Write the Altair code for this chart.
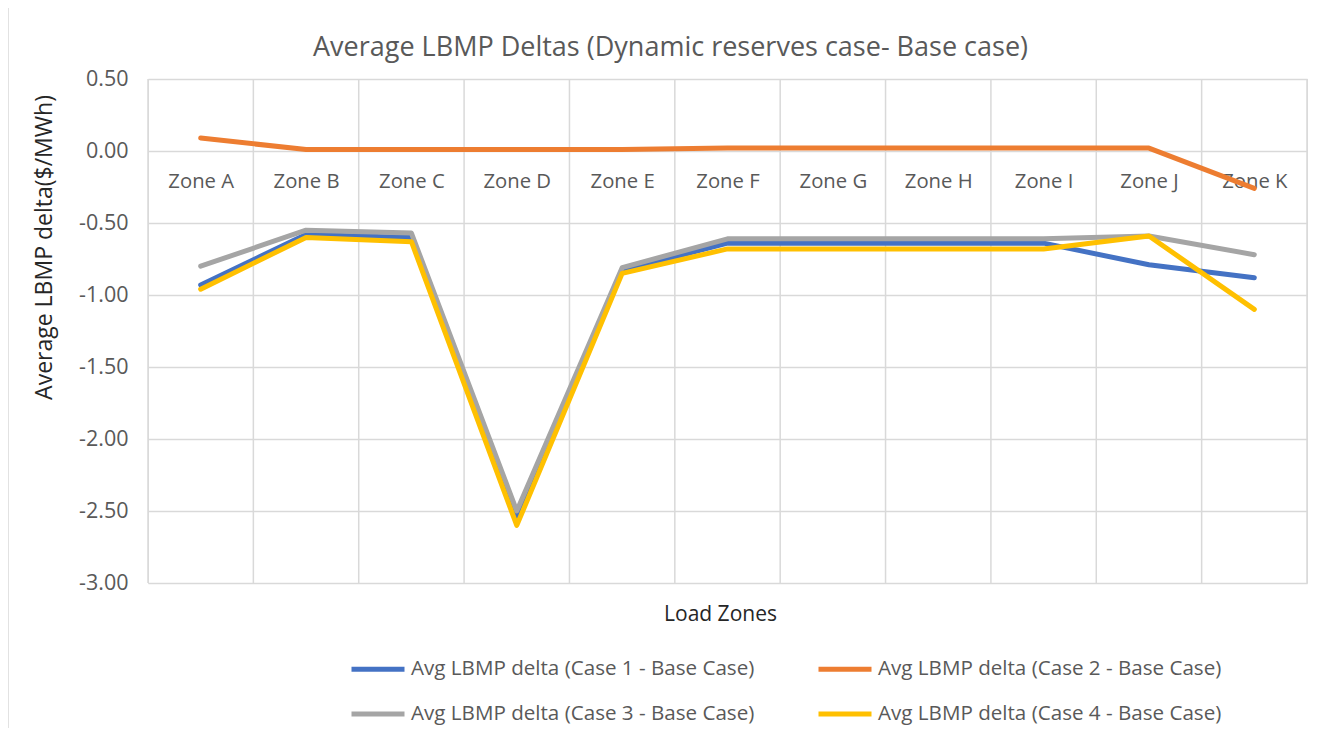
import altair as alt
import pandas as pd

zones = ["Zone A", "Zone B", "Zone C", "Zone D", "Zone E", "Zone F",
         "Zone G", "Zone H", "Zone I", "Zone J", "Zone K"]
series_names = [
    "Avg LBMP delta (Case 1 - Base Case)",
    "Avg LBMP delta (Case 2 - Base Case)",
    "Avg LBMP delta (Case 3 - Base Case)",
    "Avg LBMP delta (Case 4 - Base Case)",
]
case1 = [-0.93, -0.58, -0.60, -2.55, -0.83, -0.64, -0.64, -0.64, -0.64, -0.79, -0.88]
case2 = [0.09, 0.01, 0.01, 0.01, 0.01, 0.02, 0.02, 0.02, 0.02, 0.02, -0.26]
case3 = [-0.80, -0.55, -0.57, -2.50, -0.81, -0.61, -0.61, -0.61, -0.61, -0.59, -0.72]
case4 = [-0.96, -0.60, -0.63, -2.60, -0.85, -0.68, -0.68, -0.68, -0.68, -0.59, -1.10]
colors = ["#4472C4", "#ED7D31", "#A5A5A5", "#FFC000"]
y_ticks = [0.5, 0.0, -0.5, -1.0, -1.5, -2.0, -2.5, -3.0]

FONT = "Open Sans"
TXT = "#595959"
GRID = "#D9D9D9"

rows = []
for name, vals in zip(series_names, [case1, case2, case3, case4]):
    for i, (z, v) in enumerate(zip(zones, vals)):
        rows.append({"zone": z, "idx": i, "series": name, "value": v})
df = pd.DataFrame(rows)
bounds = pd.DataFrame({"b": [i - 0.5 for i in range(len(zones) + 1)]})

W, H = 1159, 504
ymin, ymax = -3.0, 0.5
zero_from_bottom = (0 - ymin) / (ymax - ymin) * H

xscale = alt.Scale(domain=[-0.5, len(zones) - 0.5], nice=False, zero=False)
yscale = alt.Scale(domain=[ymin, ymax], nice=False, zero=False)
label_expr = "[" + ",".join("'%s'" % z for z in zones) + "][round(datum.value)]"

border = alt.Chart(pd.DataFrame({"k": [0]})).mark_rect(
    fill="transparent", stroke=GRID, strokeWidth=1.5
).encode(x=alt.value(-140), x2=alt.value(W + 100), y=alt.value(-72), y2=alt.value(H + 300))

vgrid = alt.Chart(bounds).mark_rule(color=GRID, strokeWidth=1.5).encode(
    x=alt.X("b:Q", scale=xscale,
            axis=alt.Axis(values=list(range(len(zones))), labelExpr=label_expr,
                          orient="bottom", offset=-zero_from_bottom,
                          ticks=False, tickSize=0, domain=False, grid=False, title=None,
                          labelFont=FONT, labelFontSize=20.3, labelColor=TXT,
                          labelBaseline="middle", labelPadding=30, labelOverlap=False))
)

lines = alt.Chart(df).mark_line(strokeWidth=5, strokeCap="round", strokeJoin="round").encode(
    x=alt.X("idx:Q", scale=xscale,
            axis=alt.Axis(orient="bottom", labels=False, ticks=False, domain=False, grid=False,
                          title="Load Zones", titleFont=FONT, titleFontSize=21,
                          titleFontWeight="normal", titleColor="#262626",
                          titleX=572, titleY=31, titleBaseline="middle", titleAlign="center")),
    y=alt.Y("value:Q", scale=yscale,
            axis=alt.Axis(values=y_ticks,
                          labelExpr="datum.value < 0 ? '-' + format(-datum.value, '.2f') : format(datum.value, '.2f')",
                          grid=True, gridColor=GRID, gridWidth=1.5, domain=False, ticks=False,
                          labelFont=FONT, labelFontSize=21.5, labelColor=TXT, labelPadding=20,
                          title="Average LBMP delta($/MWh)", titleFont=FONT, titleFontSize=23,
                          titleFontWeight="normal", titleColor="#262626",
                          titleX=-104, titleY=168, titleAngle=270,
                          titleBaseline="middle", titleAlign="center")),
    color=alt.Color("series:N", scale=alt.Scale(domain=series_names, range=colors),
                    legend=alt.Legend(orient="none", legendX=201, legendY=561, columns=2,
                                      direction="horizontal",
                                      title=None, symbolType="stroke", symbolSize=2809,
                                      symbolStrokeWidth=5, labelFont=FONT, labelFontSize=20.6,
                                      labelColor=TXT, labelOffset=4, columnPadding=53,
                                      rowPadding=5, labelLimit=700)),
)

chart = alt.layer(border, vgrid, lines).resolve_axis(x="independent").properties(
    width=W, height=H,
    autosize=alt.AutoSizeParams(type="none"),
    padding={"left": 140, "top": 71, "right": 8, "bottom": 145},
    title=alt.TitleParams("Average LBMP Deltas (Dynamic reserves case- Base case)",
                          font=FONT, fontSize=27, fontWeight="normal", color=TXT,
                          anchor="middle", frame="group", dx=-57, offset=-69,
                          baseline="middle"),
).configure_view(strokeWidth=0).configure(background="white")

chart.save("out.html", embed_options={"renderer": "svg", "actions": False})
